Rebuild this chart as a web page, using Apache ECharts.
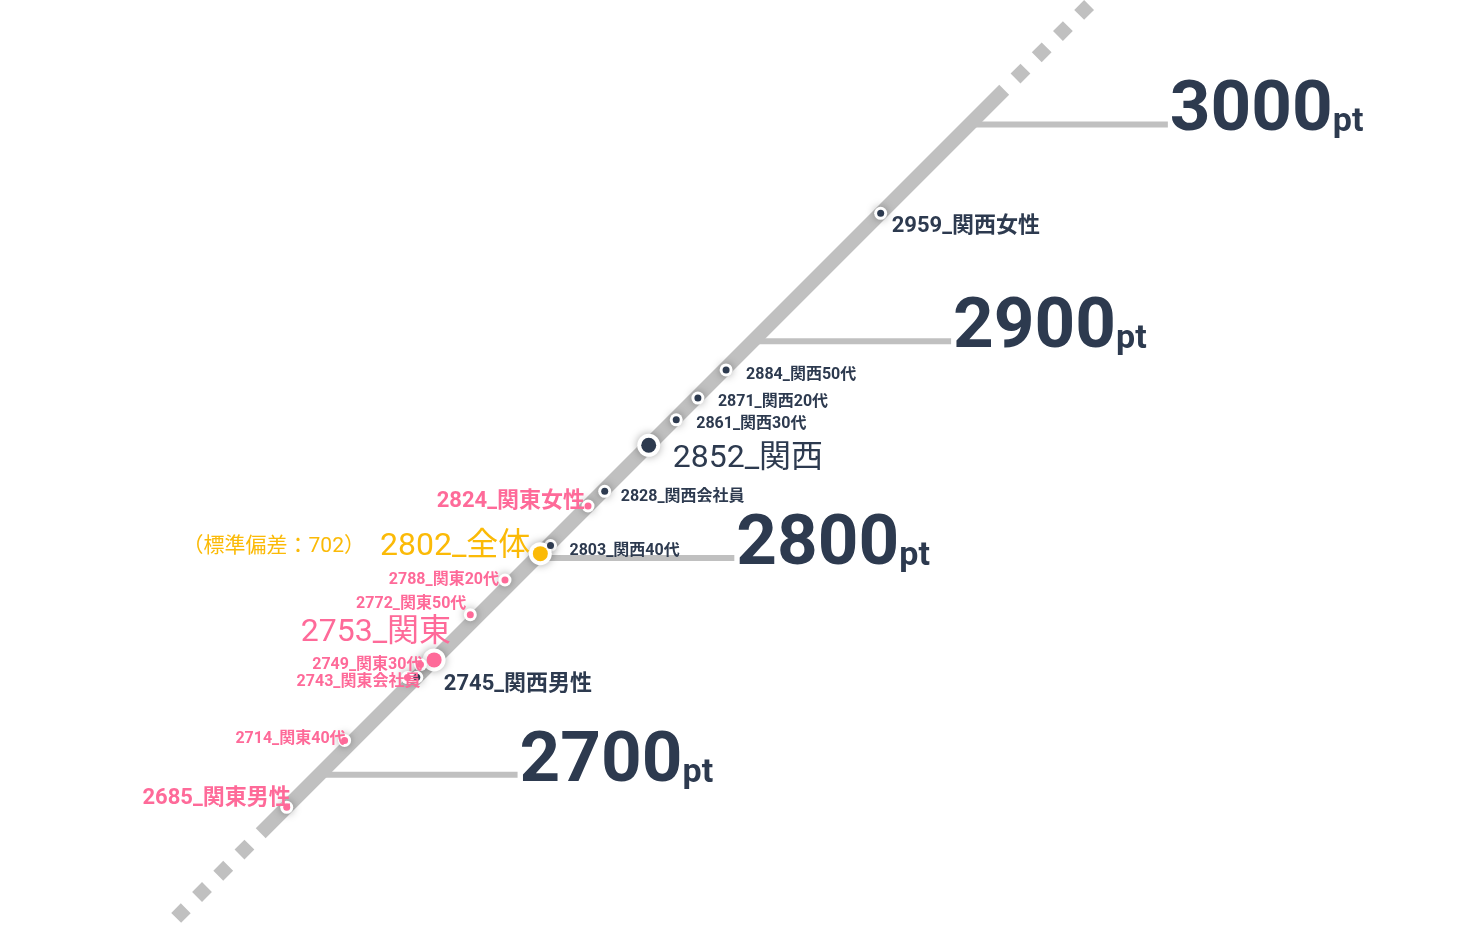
<!DOCTYPE html>
<html lang="ja">
<head>
<meta charset="UTF-8">
<meta name="viewport" content="width=device-width, initial-scale=1.0">
<title>スコア分布（関東・関西）</title>
<style>
    html, body {
        margin: 0;
        padding: 0;
        background: #fff;
    }
    div#chart {
        width: 1458px;
        height: 928px;
    }
</style>
</head>
<body>
<div id="chart"></div>
<script src="https://cdn.jsdelivr.net/npm/echarts@6/dist/echarts.min.js"></script>
<script>
    // --- data ---
    var names = ['関西女性', '関西50代', '関西20代', '関西30代', '関西', '関西会社員', '関東女性', '関西40代',
        '全体', '関東20代', '関東50代', '関東', '関東30代', '関西男性', '関東会社員', '関東40代', '関東男性'];
    var scores = [2959, 2884, 2871, 2861, 2852, 2828, 2824, 2803,
        2802, 2788, 2772, 2753, 2749, 2745, 2743, 2714, 2685];
    var stdDev = 702;
    var tickValues = [2700, 2800, 2900, 3000];
    var tickUnit = 'pt';

    // --- look ---
    var FONT = 'Roboto, "Noto Sans CJK JP", sans-serif';
    var GREY = '#c0c0c0';
    var DARK = '#2d3a4f';
    var COLORS = { '関西': DARK, '関東': '#fe6a99', '全体': '#fbba07' };
    // dot = coloured core, ring = white halo around it
    var LEVELS = {
        big:   { dot: 15, ring: 23, fontSize: 32, fontWeight: 'normal' },
        mid:   { dot: 7, ring: 13, fontSize: 22, fontWeight: 'bold' },
        small: { dot: 7, ring: 13, fontSize: 16, fontWeight: 'bold' }
    };
    var TICK_LEN = 91.5;          // tick arm length, in score units
    var RAIL = [2673, 3016];       // solid part of the rail
    var RAIL_TAIL = [2634, 3056];  // dotted ends
    // label anchor relative to the dot (px)
    var labelNudge = {
        '関西女性': [11, 13], '関西50代': [20, 5], '関西20代': [20, 4], '関西30代': [20, 4],
        '関西': [24, 14], '関西会社員': [16, 6], '関西40代': [19, 5], '関西男性': [27, 7],
        '関東女性': [-3, -4], '全体': [-10, -7], '関東20代': [-6, 0], '関東50代': [-4, -11],
        '関東': [17, -27], '関東30代': [2, 0], '関東会社員': [13, 4], '関東40代': [1, -1],
        '関東男性': [4, -9]
    };

    function regionOf(name) {
        if (name.indexOf('関西') === 0) return '関西';
        if (name.indexOf('関東') === 0) return '関東';
        return '全体';
    }
    function levelOf(name) {
        if (name === regionOf(name)) return 'big';
        if (/[男女]性$/.test(name)) return 'mid';
        return 'small';
    }
    function dotShift(name) {
        if (levelOf(name) !== 'small') return [0, 0];
        return regionOf(name) === '関西' ? [8, -6] : [-5, -4];
    }

    var haloData = names.map(function (name, i) {
        return {
            value: [scores[i], scores[i]],
            symbolSize: LEVELS[levelOf(name)].ring,
            symbolOffset: dotShift(name)
        };
    });

    var pointData = names.map(function (name, i) {
        var region = regionOf(name);
        var lv = LEVELS[levelOf(name)];
        var onRight = region === '関西';
        var text = scores[i] + '_' + name;
        var label = {
            show: true,
            position: 'inside',
            align: onRight ? 'left' : 'right',
            verticalAlign: 'middle',
            offset: labelNudge[name],
            color: COLORS[region],
            fontFamily: FONT,
            fontSize: lv.fontSize,
            fontWeight: lv.fontWeight,
            formatter: text
        };
        if (region === '全体') {
            label.formatter = '{s|（標準偏差：' + stdDev + '）}{b|' + text + '}';
            label.rich = {
                s: { fontFamily: FONT, fontSize: 21, color: COLORS[region], padding: [0, 15, 0, 0] },
                b: { fontFamily: FONT, fontSize: 32, color: COLORS[region] }
            };
        }
        return {
            name: name,
            value: [scores[i], scores[i]],
            symbolSize: lv.dot,
            symbolOffset: dotShift(name),
            itemStyle: { color: COLORS[region], opacity: 1 },
            label: label
        };
    });

    var series = [];
    // rail
    series.push({
        type: 'line', silent: true, symbol: 'none', clip: false, z: 2,
        data: [[RAIL[0], RAIL[0]], [RAIL[1], RAIL[1]]],
        lineStyle: { color: GREY, width: 14, cap: 'butt' }
    });
    [[RAIL[0], RAIL_TAIL[0]], [RAIL[1], RAIL_TAIL[1]]].forEach(function (seg) {
        series.push({
            type: 'line', silent: true, symbol: 'none', clip: false, z: 2,
            data: [[seg[0], seg[0]], [seg[1], seg[1]]],
            lineStyle: { color: GREY, width: 14, cap: 'butt', type: [14, 16], dashOffset: 14 }
        });
    });
    // tick arms
    tickValues.forEach(function (t) {
        series.push({
            type: 'line', silent: true, symbol: 'none', clip: false, z: 1,
            data: [[t, t], [t + TICK_LEN, t]],
            lineStyle: { color: GREY, width: 6 }
        });
    });
    // tick labels
    series.push({
        type: 'scatter', silent: true, clip: false, z: 3,
        symbolSize: 1,
        itemStyle: { color: 'transparent', opacity: 1 },
        data: tickValues.map(function (t) { return [t + TICK_LEN, t]; }),
        label: {
            show: true,
            position: 'inside',
            align: 'left',
            verticalAlign: 'middle',
            offset: [2, -12],
            formatter: function (p) { return '{n|' + p.value[1] + '}{u|' + tickUnit + '}'; },
            rich: {
                n: { fontFamily: FONT, fontSize: 71, fontWeight: 'bold', verticalAlign: 'bottom', color: DARK },
                u: { fontFamily: FONT, fontSize: 34, fontWeight: 'bold', verticalAlign: 'bottom', padding: [0, 0, 8, 0], color: DARK }
            }
        }
    });
    // white halos with soft shadow
    series.push({
        type: 'scatter', silent: true, clip: false, z: 4,
        data: haloData,
        itemStyle: { color: '#fff', opacity: 1, shadowBlur: 9, shadowColor: 'rgba(0, 0, 0, 0.35)' }
    });
    // score points
    series.push({
        type: 'scatter', silent: true, clip: false, z: 5,
        data: pointData
    });

    var chart = echarts.init(document.getElementById('chart'));
    chart.setOption({
        animation: false,
        grid: { left: 167.5, right: 271.7, top: 3.1, bottom: 1.5 },
        xAxis: { type: 'value', min: 2630, max: 3100, show: false },
        yAxis: { type: 'value', min: 2630, max: 3056, show: false },
        series: series
    });
</script>
</body>
</html>
